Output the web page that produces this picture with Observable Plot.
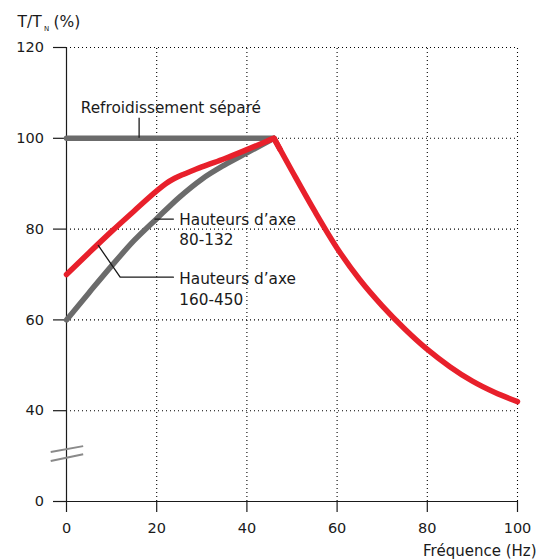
<!DOCTYPE html>
<html><head><meta charset="utf-8">
<script src="https://cdn.jsdelivr.net/npm/d3@7"></script>
<script src="https://cdn.jsdelivr.net/npm/@observablehq/plot@0.6"></script>
<style>body{margin:0;background:#fff}</style>
</head><body><div id="chart"></div>
<script>
// Axis ticks (y value 20 stands for "0" below the axis break)
const xTicks = [0, 20, 40, 60, 80, 100];
const yTicks = [20, 40, 60, 80, 100, 120];
const yTickLabels = ["0", "40", "60", "80", "100", "120"];
const xGrid = [20, 40, 60, 80, 100];
const yGrid = [40, 60, 80, 100, 120];

// Refroidissement séparé (gray horizontal)
const sepX = [0, 46];
const sepY = [100, 100];

// Hauteurs d'axe 160-450 (gray curve)
const grayX = [0, 5, 10, 15, 20, 25, 30, 35, 40, 46];
const grayY = [60, 66, 71.9, 77.5, 82.3, 87, 91, 94.1, 96.8, 100];

// Hauteurs d'axe 80-132 (red, rising part)
const redRiseX = [0, 5, 10, 15, 20, 22, 24, 26, 28, 30, 35, 40, 46];
const redRiseY = [70, 74.8, 79.5, 84.0, 88.4, 90.0, 91.2, 92.1, 92.9, 93.7, 95.5, 97.5, 100];
// Red, peak segment
const redPeakX = [44.5, 46, 47.5];
const redPeakY = [99.4, 100, 97.3];
// Red, decreasing part above rated frequency
const redFallX = [46, 50, 55, 60, 65, 70, 75, 80, 85, 90, 95, 100];
const redFallY = [100, 92.8, 84.0, 75.8, 68.9, 63.1, 58.0, 53.5, 49.7, 46.5, 44.0, 42.0];

// Annotation labels
const labelText = ["Refroidissement séparé", "Hauteurs d’axe", "80-132", "Hauteurs d’axe", "160-450"];
const labelX = [3.15, 25, 25, 25, 25];
const labelY = [105.5, 81.0, 76.4, 67.8, 63.2];

// Leader lines
const leaderSep = {x: 16.1, y1: 100, y2: 104.4};
const leader80X = [19.6, 23.7], leader80Y = [82.2, 82.2];
const leader160X = [7.05, 11.9, 23.7], leader160Y = [76.4, 69.4, 69.4];

// Axis break marks
const breakX1 = [-3.5, -3.5], breakY1 = [30.9, 28.9];
const breakX2 = [3.7, 3.7], breakY2 = [32.2, 30.4];

const pts = (xs, ys) => xs.map((x, i) => ({x, y: ys[i]}));
const red = "#e8202b", gray = "#6b6b6b", ink = "#1a1a1a";
const font = "'DejaVu Sans', sans-serif";

const chart = Plot.plot({
  width: 552, height: 560,
  marginLeft: 66, marginRight: 35, marginTop: 47, marginBottom: 59,
  style: {fontFamily: font, fontSize: "14.5px", color: ink, background: "#fff"},
  x: {domain: [0, 100]},
  y: {domain: [20, 120]},
  marks: [
    Plot.ruleX(xGrid, {y1: 20, y2: 120, stroke: "#000", strokeDasharray: "1,3", strokeWidth: 1.1}),
    Plot.ruleY(yGrid, {x1: 0, x2: 100, stroke: "#000", strokeDasharray: "1,3", strokeWidth: 1.1}),
    Plot.axisX({ticks: xTicks, tickSize: 11, tickPadding: 10.5, label: null, strokeWidth: 1.2}),
    Plot.axisY({ticks: yTicks, tickSize: 13, tickPadding: 9.5, label: null, strokeWidth: 1.2,
      tickFormat: d => yTickLabels[yTicks.indexOf(d)]}),
    Plot.ruleX([0], {y1: 20, y2: 120, stroke: ink, strokeWidth: 1.2}),
    Plot.ruleY([20], {x1: 0, x2: 100, stroke: ink, strokeWidth: 1.2}),
    Plot.link([0, 1], {x1: i => breakX1[i], y1: i => breakY1[i], x2: i => breakX2[i], y2: i => breakY2[i], stroke: "#8a8a8a", strokeWidth: 2}),
    Plot.line(pts(sepX, sepY), {x: "x", y: "y", stroke: gray, strokeWidth: 5.5}),
    Plot.line(pts(grayX, grayY), {x: "x", y: "y", stroke: gray, strokeWidth: 5.5, curve: "monotone-x"}),
    Plot.line(pts(redRiseX, redRiseY), {x: "x", y: "y", stroke: red, strokeWidth: 5.5, curve: "monotone-x"}),
    Plot.line(pts(redFallX, redFallY), {x: "x", y: "y", stroke: red, strokeWidth: 5.5, curve: "monotone-x"}),
    Plot.line(pts(redPeakX, redPeakY), {x: "x", y: "y", stroke: red, strokeWidth: 5.5, strokeLinejoin: "miter", strokeLinecap: "butt"}),
    Plot.ruleX([leaderSep], {x: "x", y1: "y1", y2: "y2", stroke: ink, strokeWidth: 1.3}),
    Plot.line(pts(leader80X, leader80Y), {x: "x", y: "y", stroke: ink, strokeWidth: 1.3}),
    Plot.line(pts(leader160X, leader160Y), {x: "x", y: "y", stroke: ink, strokeWidth: 1.3}),
    Plot.text(labelText.map((t, i) => ({t, x: labelX[i], y: labelY[i]})), {x: "x", y: "y", text: "t", textAnchor: "start", lineAnchor: "bottom", fill: ink, fontSize: 15.3}),
    Plot.text(["T/T"], {text: d => d, frameAnchor: "top-left", dx: -49, dy: -20.3, textAnchor: "start", lineAnchor: "bottom", fill: ink, fontSize: 15.5}),
    Plot.text(["N"], {text: d => d, frameAnchor: "top-left", dx: -22.5, dy: -17, textAnchor: "start", lineAnchor: "bottom", fill: ink, fontSize: 7}),
    Plot.text(["(%)"], {text: d => d, frameAnchor: "top-left", dx: -13, dy: -20.3, textAnchor: "start", lineAnchor: "bottom", fill: ink, fontSize: 15.5}),
    Plot.text(["Fréquence (Hz)"], {text: d => d, frameAnchor: "bottom-right", dx: 19, dy: 54, textAnchor: "end", lineAnchor: "bottom", fill: ink, fontSize: 15})
  ]
});
document.getElementById("chart").appendChild(chart);
</script>
</body></html>
